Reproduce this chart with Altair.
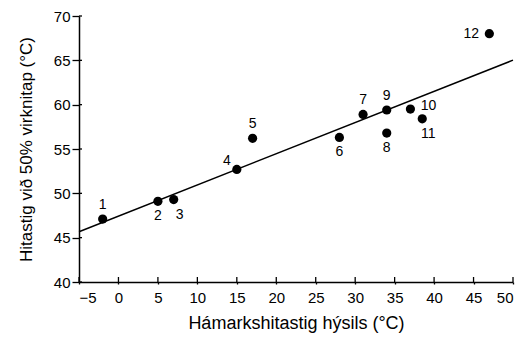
import altair as alt
import pandas as pd

# data
labels = ["1", "2", "3", "4", "5", "6", "7", "8", "9", "10", "11", "12"]
x_vals = [-2, 5, 7, 15, 17, 28, 31, 34, 34, 37, 38.5, 47]
y_vals = [47.1, 49.1, 49.3, 52.7, 56.2, 56.3, 58.9, 56.8, 59.4, 59.5, 58.4, 68.0]
placement = ["above", "below", "below-right", "upper-left", "above", "below",
             "above", "below", "above", "right", "below-right", "left"]
x_ticks = [-5, 0, 5, 10, 15, 20, 25, 30, 35, 40, 45, 50]
y_ticks = [40, 45, 50, 55, 60, 65, 70]

df = pd.DataFrame({"x": x_vals, "y": y_vals, "label": labels, "place": placement})

W, H = 434, 266
FONT = "Liberation Sans"

xs = alt.Scale(domain=[-5, 50], nice=False, zero=False)
ys = alt.Scale(domain=[40, 70], nice=False, zero=False)

x_axis = alt.Axis(values=x_ticks, title="Hámarkshitastig hýsils (°C)", grid=False,
                  tickSize=2, labelPadding=6, titlePadding=9, labelOverlap=False,
                  titleFontSize=18)
y_axis = alt.Axis(values=y_ticks, title="Hitastig við 50% virknitap (°C)", grid=False,
                  tickSize=7, labelPadding=2, titlePadding=18, labelOverlap=False,
                  titleFontSize=17)

base = alt.Chart(df)

points = base.mark_circle(size=85, color="black", opacity=1).encode(
    x=alt.X("x:Q", scale=xs, axis=x_axis),
    y=alt.Y("y:Q", scale=ys, axis=y_axis),
)

reg = base.transform_regression("x", "y", extent=[-5, 50]).mark_line(
    color="black", strokeWidth=1.5
).encode(x=alt.X("x:Q", scale=xs, axis=x_axis), y=alt.Y("y:Q", scale=ys, axis=y_axis))

offsets = {
    "above": (0, -14),
    "below": (0, 15),
    "below-right": (6, 15),
    "upper-left": (-10, -8),
    "right": (18, -3),
    "left": (-18, 0),
}
text_layers = []
for key, (dx, dy) in offsets.items():
    text_layers.append(
        base.transform_filter(alt.datum.place == key).mark_text(
            dx=dx, dy=dy, fontSize=14, font=FONT, color="black", baseline="middle", align="center"
        ).encode(x=alt.X("x:Q", scale=xs, axis=x_axis), y=alt.Y("y:Q", scale=ys, axis=y_axis),
                 text="label:N")
    )

xt = pd.DataFrame({"t": x_ticks})
yt = pd.DataFrame({"t": y_ticks})
x_inner = alt.Chart(xt).mark_rule(color="black", strokeWidth=1.3).encode(
    x=alt.X("t:Q", scale=xs, axis=x_axis), y=alt.value(H), y2=alt.value(H - 5)
)
y_inner = alt.Chart(yt).mark_rule(color="black", strokeWidth=1.3).encode(
    y=alt.Y("t:Q", scale=ys, axis=y_axis), x=alt.value(0), x2=alt.value(3)
)

chart = alt.layer(reg, points, x_inner, y_inner, *text_layers).properties(
    width=W, height=H,
    autosize=alt.AutoSizeParams(type="none"),
    padding={"left": 71, "top": 8, "right": 7, "bottom": 56},
    background="white",
).configure_view(stroke=None).configure_axis(
    domainColor="black", domainWidth=1.5, tickColor="black", tickWidth=1.3,
    labelColor="black", titleColor="black", labelFont=FONT, titleFont=FONT,
    labelFontSize=15, titleFontWeight="normal", labelOverlap=False,
)

chart.save("out.html", embed_options={"renderer": "svg", "actions": False})
